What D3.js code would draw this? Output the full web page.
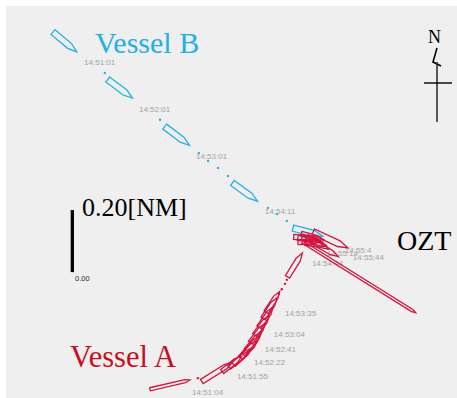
<!DOCTYPE html>
<html>
<head>
<meta charset="utf-8">
<script src="https://cdn.jsdelivr.net/npm/d3@7"></script>
<style>
  html, body { margin: 0; padding: 0; background: #ffffff; }
  svg { display: block; }
</style>
</head>
<body>
<svg id="chart" width="457" height="398"></svg>
<script>
// Track positions in nautical miles relative to the OZT point (x east, y north),
// headings in degrees true, ship outline length / beam in NM.

const vesselBShips = [
  { x: -0.797, y: 0.632, h: 130, len: 0.10, wid: 0.020 },
  { x: -0.619, y: 0.481, h: 127, len: 0.10, wid: 0.020 },
  { x: -0.435, y: 0.329, h: 127, len: 0.10, wid: 0.020 },
  { x: -0.216, y: 0.148, h: 126, len: 0.10, wid: 0.020 },
  { x: -0.013, y: 0.019, h: 105, len: 0.10, wid: 0.020 }
];
const vesselBDots = [
  [-0.668, 0.532], [-0.490, 0.381], [-0.365, 0.274], [-0.335, 0.248],
  [-0.303, 0.226], [-0.271, 0.200], [-0.142, 0.097], [-0.113, 0.077], [-0.081, 0.055]
];
const vesselBTimes = ["14:51:01", "14:52:01", "14:53:01", "14:54:11"];
const vesselBTimePos = [[-0.735, 0.558], [-0.558, 0.406], [-0.374, 0.255], [-0.152, 0.077]];

const vesselAShips = [
  { x: -0.458, y: -0.473, h: 77, len: 0.132, wid: 0.010 },
  { x: -0.306, y: -0.432, h: 58, len: 0.116, wid: 0.016 },
  { x: -0.258, y: -0.406, h: 52, len: 0.080, wid: 0.016 },
  { x: -0.236, y: -0.392, h: 50, len: 0.080, wid: 0.014 },
  { x: -0.223, y: -0.381, h: 48, len: 0.080, wid: 0.016 },
  { x: -0.203, y: -0.358, h: 45, len: 0.080, wid: 0.016 },
  { x: -0.195, y: -0.345, h: 42, len: 0.080, wid: 0.014 },
  { x: -0.187, y: -0.332, h: 40, len: 0.080, wid: 0.016 },
  { x: -0.174, y: -0.306, h: 38, len: 0.080, wid: 0.016 },
  { x: -0.161, y: -0.281, h: 37, len: 0.080, wid: 0.016 },
  { x: -0.148, y: -0.255, h: 35, len: 0.080, wid: 0.016 },
  { x: -0.135, y: -0.226, h: 34, len: 0.080, wid: 0.016 },
  { x: -0.126, y: -0.206, h: 33, len: 0.080, wid: 0.016 },
  { x: -0.055, y: -0.087, h: 32, len: 0.090, wid: 0.016 },
  { x: -0.019, y: 0.000, h: 95, len: 0.080, wid: 0.016 },
  { x: -0.010, y: -0.012, h: 88, len: 0.070, wid: 0.016 },
  { x: -0.006, y: -0.006, h: 100, len: 0.080, wid: 0.016 },
  { x: 0.002, y: 0.004, h: 105, len: 0.075, wid: 0.016 },
  { x: 0.006, y: -0.010, h: 110, len: 0.080, wid: 0.016 },
  { x: 0.012, y: -0.020, h: 98, len: 0.070, wid: 0.016 },
  { x: 0.019, y: -0.016, h: 120, len: 0.080, wid: 0.016 },
  { x: 0.060, y: -0.006, h: 115, len: 0.123, wid: 0.020 },
  { x: 0.042, y: -0.035, h: 120, len: 0.100, wid: 0.016 },
  { x: 0.152, y: -0.127, h: 122, len: 0.430, wid: 0.008 }
];
const vesselADots = [
  [-0.368, -0.452], [-0.106, -0.181], [-0.097, -0.165], [-0.087, -0.148], [-0.081, -0.135]
];
const vesselATimes = ["14:51:04", "14:51:55", "14:52:22", "14:52:41", "14:53:04",
                      "14:53:35", "14:54:44", "14:55:14", "14:55:4", "14:55:44"];
const vesselATimePos = [[-0.387, -0.506], [-0.242, -0.455], [-0.187, -0.410], [-0.152, -0.368],
                        [-0.123, -0.319], [-0.087, -0.252], [0.000, -0.090], [0.048, -0.058],
                        [0.106, -0.048], [0.132, -0.071]];

const scaleBar = { x: -0.773, from: -0.110, to: 0.090, label: "0.20[NM]", zero: "0.00" };

const W = 457, H = 398;
const svg = d3.select("#chart");

// map frame: 310 px per nautical mile, north up
const x = d3.scaleLinear().domain([-0.987, 0.468]).range([6, 457]);
const y = d3.scaleLinear().domain([-0.516, 0.748]).range([398, 6]);
const k = x(1) - x(0);

const colB = "#22b0e6";
const colA = "#d3143f";

svg.append("rect").attr("x", 6).attr("y", 6).attr("width", W - 6).attr("height", H - 6)
  .attr("fill", "#efefef");

function shipPoints(d) {
  const L = d.len * k, B = d.wid * k;
  const bow = Math.min(B * 1.6, L * 0.3);
  return [[-L / 2, -B / 2], [L / 2 - bow, -B / 2], [L / 2, 0], [L / 2 - bow, B / 2], [-L / 2, B / 2]]
    .map(p => p.join(",")).join(" ");
}

function drawTrack(ships, dots, times, timePos, color) {
  const g = svg.append("g");
  g.selectAll("text.time").data(times).join("text")
    .attr("class", "time")
    .attr("x", (t, i) => x(timePos[i][0]))
    .attr("y", (t, i) => y(timePos[i][1]))
    .attr("font-family", "'Liberation Sans', Arial, sans-serif")
    .attr("font-size", 8)
    .attr("fill", "#a3a3a3")
    .text(t => t);
  g.selectAll("polygon").data(ships).join("polygon")
    .attr("points", shipPoints)
    .attr("transform", d => `translate(${x(d.x)},${y(d.y)}) rotate(${d.h - 90})`)
    .attr("fill", "none")
    .attr("stroke", color)
    .attr("stroke-width", 1.3)
    .attr("stroke-linejoin", "miter");
  g.selectAll("circle").data(dots).join("circle")
    .attr("cx", d => x(d[0])).attr("cy", d => y(d[1]))
    .attr("r", 1.2).attr("fill", color);
}

drawTrack(vesselBShips, vesselBDots, vesselBTimes, vesselBTimePos, colB);
drawTrack(vesselAShips, vesselADots, vesselATimes, vesselATimePos, colA);

const serif = "'Liberation Serif', 'Times New Roman', serif";

// vessel names and the meeting point
svg.append("text").attr("x", 95).attr("y", 53).attr("font-family", serif)
  .attr("font-size", 30).attr("fill", colB).text("Vessel B");
svg.append("text").attr("x", 70).attr("y", 367).attr("font-family", serif)
  .attr("font-size", 30.5).attr("fill", "#c80f22").text("Vessel A");
svg.append("text").attr("x", 397).attr("y", 250).attr("font-family", serif)
  .attr("font-size", 28).attr("fill", "#000").text("OZT");

// distance scale bar
svg.append("line")
  .attr("x1", x(scaleBar.x)).attr("x2", x(scaleBar.x))
  .attr("y1", y(scaleBar.from)).attr("y2", y(scaleBar.to))
  .attr("stroke", "#000").attr("stroke-width", 3.3);
svg.append("text").attr("x", 82).attr("y", 216).attr("font-family", serif)
  .attr("font-size", 26).attr("fill", "#000").text(scaleBar.label);
svg.append("text").attr("x", 75).attr("y", 281)
  .attr("font-family", "'Liberation Sans', Arial, sans-serif")
  .attr("font-size", 7.5).attr("fill", "#2a2a2a").text(scaleBar.zero);

// north arrow
const na = svg.append("g");
na.append("text").attr("x", 434.5).attr("y", 43).attr("text-anchor", "middle")
  .attr("font-family", serif).attr("font-size", 18).attr("fill", "#000").text("N");
na.append("polyline").attr("points", "437,48 433,62 441,66")
  .attr("fill", "none").attr("stroke", "#000").attr("stroke-width", 1.6);
na.append("line").attr("x1", 437).attr("x2", 437).attr("y1", 62).attr("y2", 122)
  .attr("stroke", "#333").attr("stroke-width", 1.6);
na.append("line").attr("x1", 424).attr("x2", 452).attr("y1", 83).attr("y2", 83)
  .attr("stroke", "#000").attr("stroke-width", 1.4);
</script>
</body>
</html>
